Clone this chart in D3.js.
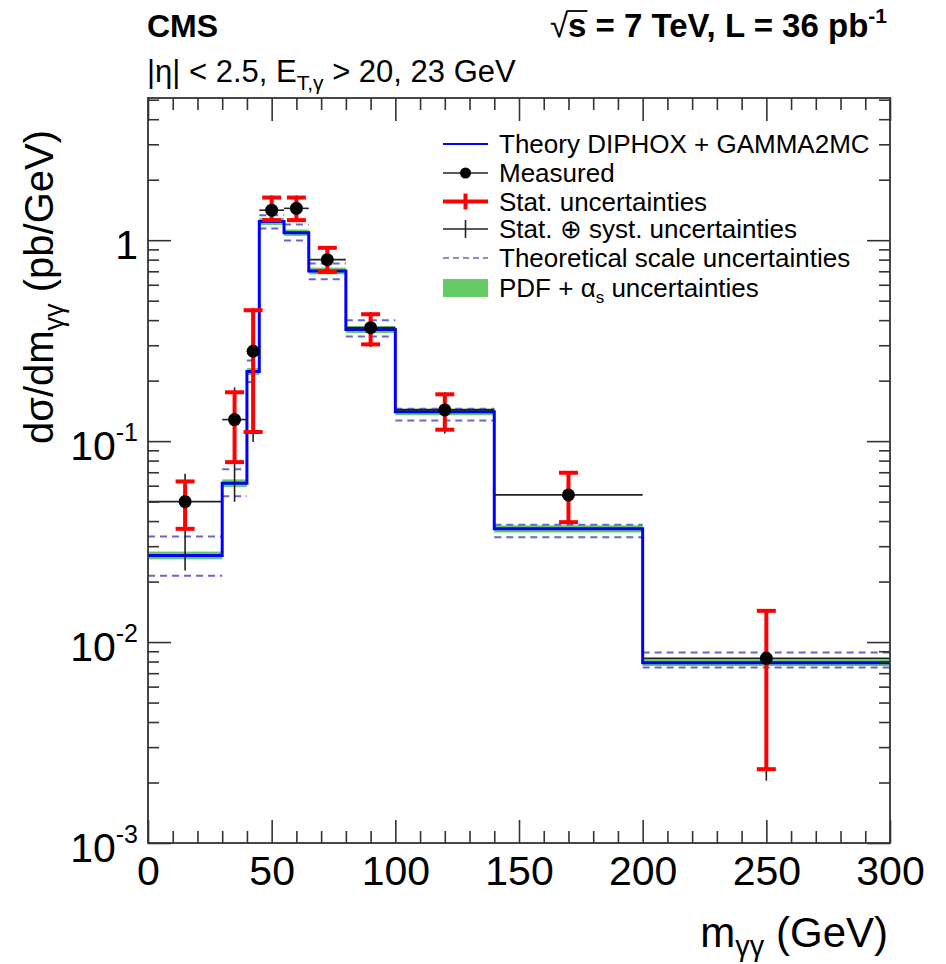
<!DOCTYPE html>
<html>
<head>
<meta charset="utf-8">
<script src="https://cdn.jsdelivr.net/npm/d3@7"></script>
<style>
  html, body { margin: 0; padding: 0; background: #fff; }
  svg { display: block; font-family: "Liberation Sans", Arial, Helvetica, sans-serif; }
</style>
</head>
<body>
<svg id="chart" width="946" height="964"></svg>
<script>
// Diphoton invariant-mass spectrum: bin edges in GeV
const binEdges = [0, 30, 40, 45, 55, 65, 80, 100, 140, 200, 300];

// Theory prediction (DIPHOX + GAMMA2MC), pb/GeV, one value per bin
const theory = [0.027, 0.0617, 0.222, 1.24, 1.09, 0.703, 0.359, 0.140, 0.0366, 0.0079];
// Theoretical scale variations
const scaleUp   = [0.0335, 0.0725, 0.252, 1.33, 1.197, 0.765, 0.399, 0.145, 0.0383, 0.00888];
const scaleDown = [0.0214, 0.0532, 0.197, 1.144, 0.997, 0.639, 0.332, 0.1267, 0.0332, 0.00748];
// PDF + alpha_s band
const pdfUp   = [0.0282, 0.0645, 0.231, 1.29, 1.13, 0.730, 0.373, 0.1455, 0.0381, 0.0083];
const pdfDown = [0.0258, 0.0590, 0.213, 1.19, 1.05, 0.676, 0.345, 0.1345, 0.0351, 0.0076];

// Measured cross section at bin centres
const centers  = [15, 35, 42.5, 50, 60, 72.5, 90, 120, 170, 250];
const measured = [0.050, 0.128, 0.280, 1.41, 1.44, 0.80, 0.367, 0.143, 0.054, 0.0083];
const statHi   = [0.063, 0.175, 0.448, 1.63, 1.63, 0.916, 0.428, 0.171, 0.0696, 0.0143];
const statLo   = [0.0366, 0.0786, 0.111, 1.258, 1.258, 0.695, 0.303, 0.114, 0.0395, 0.00233];
const totHi    = [0.0688, 0.185, 0.46, 1.67, 1.67, 0.93, 0.439, 0.175, 0.0700, 0.0145];
const totLo    = [0.0227, 0.0499, 0.099, 1.22, 1.23, 0.68, 0.294, 0.109, 0.0390, 0.00204];

// Axis ticks
const xMajor = [0, 50, 100, 150, 200, 250, 300];
const xMinor = [10, 20, 30, 40, 60, 70, 80, 90, 110, 120, 130, 140, 160, 170, 180, 190, 210, 220, 230, 240, 260, 270, 280, 290];
const yMajor = [1e-3, 1e-2, 1e-1, 1];
const yMajorLabels = [["10", "-3"], ["10", "-2"], ["10", "-1"], ["1", ""]];
const yMinor = [];
[1e-3, 1e-2, 1e-1, 1].forEach(d => [2,3,4,5,6,7,8,9].forEach(m => { if (d * m < 5.1) yMinor.push(d * m); }));

const frame = { left: 148, right: 890, top: 98, bottom: 843 };
const x = d3.scaleLinear().domain([0, 300]).range([frame.left, frame.right]);
const y = d3.scaleLog().domain([1e-3, 5.1]).range([frame.bottom, frame.top]);

const svg = d3.select("#chart");
const plot = svg.append("g");

const BLUE = "#0000ff", RED = "#ff0000", GREEN = "#66cc66", DASH = "#6666cc";
const bins = d3.range(theory.length).map(i => ({ lo: binEdges[i], hi: binEdges[i + 1], i }));

// PDF band boxes
plot.selectAll("rect.pdf").data(bins).join("rect")
  .attr("x", d => x(d.lo)).attr("width", d => x(d.hi) - x(d.lo))
  .attr("y", d => y(pdfUp[d.i])).attr("height", d => y(pdfDown[d.i]) - y(pdfUp[d.i]))
  .attr("fill", GREEN);

// scale uncertainty dashed lines
[scaleUp, scaleDown].forEach(arr => {
  plot.selectAll(null).data(bins).join("line")
    .attr("x1", d => x(d.lo)).attr("x2", d => x(d.hi))
    .attr("y1", d => y(arr[d.i])).attr("y2", d => y(arr[d.i]))
    .attr("stroke", DASH).attr("stroke-width", 2).attr("stroke-dasharray", "7,5");
});

// theory step line
const stepPts = [];
bins.forEach(d => { stepPts.push([x(d.lo), y(theory[d.i])]); stepPts.push([x(d.hi), y(theory[d.i])]); });
plot.append("path").attr("d", d3.line()(stepPts))
  .attr("fill", "none").attr("stroke", BLUE).attr("stroke-width", 3);

// measured points
const pts = d3.range(centers.length);
// horizontal bin-width bars
plot.selectAll(null).data(pts).join("line")
  .attr("x1", i => x(binEdges[i])).attr("x2", i => x(binEdges[i + 1]))
  .attr("y1", i => y(measured[i])).attr("y2", i => y(measured[i]))
  .attr("stroke", "#222").attr("stroke-width", 1.6);
// total uncertainty
plot.selectAll(null).data(pts).join("line")
  .attr("x1", i => x(centers[i])).attr("x2", i => x(centers[i]))
  .attr("y1", i => y(totHi[i])).attr("y2", i => y(totLo[i]))
  .attr("stroke", "#222").attr("stroke-width", 1.6);
// stat uncertainty
plot.selectAll(null).data(pts).join("line")
  .attr("x1", i => x(centers[i])).attr("x2", i => x(centers[i]))
  .attr("y1", i => y(statHi[i])).attr("y2", i => y(statLo[i]))
  .attr("stroke", RED).attr("stroke-width", 4);
[statHi, statLo].forEach(arr => {
  plot.selectAll(null).data(pts).join("line")
    .attr("x1", i => x(centers[i]) - 9.5).attr("x2", i => x(centers[i]) + 9.5)
    .attr("y1", i => y(arr[i])).attr("y2", i => y(arr[i]))
    .attr("stroke", RED).attr("stroke-width", 4);
});
plot.selectAll(null).data(pts).join("circle")
  .attr("cx", i => x(centers[i])).attr("cy", i => y(measured[i])).attr("r", 6.5)
  .attr("fill", "#000");

// axes (ticks pointing inward, mirrored on opposite sides)
const axisColor = "#333";
function styleAxis(g) {
  g.select(".domain").remove();
  g.selectAll(".tick line").attr("stroke", axisColor).attr("stroke-width", 1.6);
}
svg.append("g").attr("transform", `translate(0,${frame.bottom})`)
  .call(d3.axisBottom(x).tickValues(xMajor).tickSize(-23).tickPadding(13).tickFormat(d3.format("d")))
  .call(styleAxis)
  .call(g => g.selectAll("text").attr("font-size", 41).attr("fill", "#000").attr("font-family", null));
svg.append("g").attr("transform", `translate(0,${frame.bottom})`)
  .call(d3.axisBottom(x).tickValues(xMinor).tickSize(-12).tickFormat(""))
  .call(styleAxis);
svg.append("g").attr("transform", `translate(0,${frame.top})`)
  .call(d3.axisTop(x).tickValues(xMajor).tickSize(-23).tickFormat(""))
  .call(styleAxis);
svg.append("g").attr("transform", `translate(0,${frame.top})`)
  .call(d3.axisTop(x).tickValues(xMinor).tickSize(-12).tickFormat(""))
  .call(styleAxis);

const yAxisG = svg.append("g").attr("transform", `translate(${frame.left},0)`)
  .call(d3.axisLeft(y).tickValues(yMajor).tickSize(-23).tickPadding(10).tickFormat(""))
  .call(styleAxis);
svg.append("g").attr("transform", `translate(${frame.left},0)`)
  .call(d3.axisLeft(y).tickValues(yMinor).tickSize(-11).tickFormat(""))
  .call(styleAxis);
svg.append("g").attr("transform", `translate(${frame.right},0)`)
  .call(d3.axisRight(y).tickValues(yMajor).tickSize(-23).tickFormat(""))
  .call(styleAxis);
svg.append("g").attr("transform", `translate(${frame.right},0)`)
  .call(d3.axisRight(y).tickValues(yMinor).tickSize(-11).tickFormat(""))
  .call(styleAxis);

// y tick labels with exponents
yAxisG.selectAll(".tick").each(function (d) {
  const k = yMajor.indexOf(d);
  const lab = yMajorLabels[k];
  const t = d3.select(this).append("text")
    .attr("x", -10).attr("y", 18).attr("text-anchor", "end")
    .attr("fill", "#000").attr("font-size", 41);
  t.append("tspan").text(lab[0]);
  if (lab[1]) t.append("tspan").attr("font-size", 25).attr("dy", -19).text(lab[1]);
});

// frame
svg.append("rect")
  .attr("x", frame.left).attr("y", frame.top)
  .attr("width", frame.right - frame.left).attr("height", frame.bottom - frame.top)
  .attr("fill", "none").attr("stroke", axisColor).attr("stroke-width", 1.8);

// axis titles
const xt = svg.append("text").attr("x", 888).attr("y", 947).attr("text-anchor", "end")
  .attr("font-size", 42);
xt.append("tspan").text("m");
xt.append("tspan").attr("font-size", 29).attr("dy", 9).text("γγ");
xt.append("tspan").attr("dy", -9).text(" (GeV)");

const yt = svg.append("text").attr("transform", "translate(53,130) rotate(-90)")
  .attr("text-anchor", "end").attr("font-size", 40);
yt.append("tspan").text("dσ/dm");
yt.append("tspan").attr("font-size", 27).attr("dy", 10).text("γγ");
yt.append("tspan").attr("dy", -10).text(" (pb/GeV)");

// header texts
svg.append("text").attr("x", 147).attr("y", 37).attr("font-size", 32).attr("font-weight", "bold").text("CMS");

const rs = svg.append("text").attr("x", 887).attr("y", 37).attr("text-anchor", "end")
  .attr("font-size", 33).attr("font-weight", "bold");
rs.append("tspan").attr("font-weight", "normal").text("√");
rs.append("tspan").text("s = 7 TeV, L = 36 pb");
rs.append("tspan").attr("font-size", 21).attr("dy", -14).text("-1");
{
  // overline of the square root
  const node = rs.node();
  const b = node.getExtentOfChar(0), c = node.getExtentOfChar(1);
  svg.append("line").attr("x1", b.x + b.width - 1.5).attr("x2", c.x + c.width + 1)
    .attr("y1", 11).attr("y2", 11).attr("stroke", "#000").attr("stroke-width", 1.8);
}

const sub = svg.append("text").attr("x", 147).attr("y", 82).attr("font-size", 31);
sub.append("tspan").text("|η| < 2.5, E");
sub.append("tspan").attr("font-size", 21).attr("dy", 8).text("T,γ");
sub.append("tspan").attr("dy", -8).text(" > 20, 23 GeV");

// legend
const legX0 = 443, legX1 = 488, legTx = 499;
const legY = [144, 173, 201.5, 229, 258, 288];
const legBase = [153, 182, 210.5, 238, 266.5, 297];
const lg = svg.append("g");
const fs = 26;
function legText(k) {
  return lg.append("text").attr("x", legTx).attr("y", legBase[k]).attr("font-size", fs);
}
lg.append("line").attr("x1", legX0).attr("x2", legX1).attr("y1", legY[0]).attr("y2", legY[0])
  .attr("stroke", BLUE).attr("stroke-width", 2);
legText(0).text("Theory DIPHOX + GAMMA2MC");

lg.append("line").attr("x1", legX0).attr("x2", legX1).attr("y1", legY[1]).attr("y2", legY[1])
  .attr("stroke", "#222").attr("stroke-width", 1.6);
lg.append("circle").attr("cx", (legX0 + legX1) / 2).attr("cy", legY[1]).attr("r", 5.5).attr("fill", "#000");
legText(1).text("Measured");

lg.append("line").attr("x1", legX0).attr("x2", legX1).attr("y1", legY[2]).attr("y2", legY[2])
  .attr("stroke", RED).attr("stroke-width", 4);
lg.append("line").attr("x1", (legX0 + legX1) / 2).attr("x2", (legX0 + legX1) / 2)
  .attr("y1", legY[2] - 8).attr("y2", legY[2] + 8).attr("stroke", RED).attr("stroke-width", 4);
legText(2).text("Stat. uncertainties");

lg.append("line").attr("x1", legX0).attr("x2", legX1).attr("y1", legY[3]).attr("y2", legY[3])
  .attr("stroke", "#222").attr("stroke-width", 1.6);
lg.append("line").attr("x1", (legX0 + legX1) / 2).attr("x2", (legX0 + legX1) / 2)
  .attr("y1", legY[3] - 9).attr("y2", legY[3] + 9).attr("stroke", "#222").attr("stroke-width", 1.6);
legText(3).text("Stat. ⊕ syst. uncertainties");

lg.append("line").attr("x1", legX0).attr("x2", legX1).attr("y1", legY[4]).attr("y2", legY[4])
  .attr("stroke", DASH).attr("stroke-width", 1.6).attr("stroke-dasharray", "6,4");
legText(4).text("Theoretical scale uncertainties");

lg.append("rect").attr("x", legX0).attr("y", legY[5] - 9).attr("width", legX1 - legX0).attr("height", 18)
  .attr("fill", GREEN);
const pdfT = legText(5);
pdfT.append("tspan").text("PDF + α");
pdfT.append("tspan").attr("font-size", 17).attr("dy", 6).text("s");
pdfT.append("tspan").attr("dy", -6).text(" uncertainties");
</script>
</body>
</html>
